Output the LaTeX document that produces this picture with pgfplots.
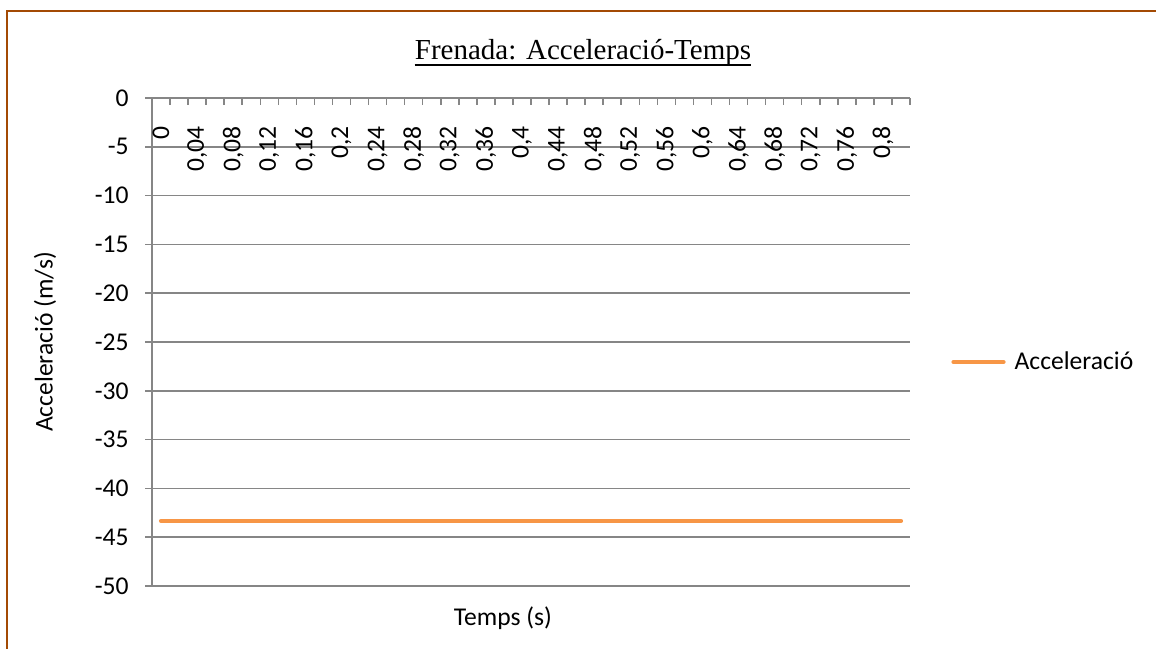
\documentclass[border=0pt]{standalone}
\usepackage{pgfplots}
\pgfplotsset{compat=1.18}
\usepackage{fontspec}
\setmainfont{Carlito}
\newfontfamily\titlefont{Liberation Serif}
\definecolor{framebrown}{RGB}{163,74,4}
\definecolor{axisgray}{RGB}{134,134,134}
\definecolor{seriesorange}{RGB}{247,150,70}
\newcommand{\lblfont}{\fontsize{12.8}{15}\selectfont}

\begin{document}
\begin{tikzpicture}[x=1pt,y=1pt]
\useasboundingbox (0,0) rectangle (578,324);
% chart frame (left and top edges)
\draw[framebrown, line width=1.3pt] (3.5,-2) -- (3.5,318.5) -- (580,318.5);
\begin{axis}[
  at={(76pt,31pt)}, anchor=south west,
  width=379pt, height=244pt, scale only axis,
  xmin=-0.5, xmax=41.5, ymin=-50, ymax=0,
  axis x line*=top, axis y line*=left,
  axis line style={axisgray, line width=0.75pt},
  tick align=outside,
  major tick length=3.5pt, minor tick length=3.5pt,
  tick style={axisgray, line width=0.75pt},
  ytick={-50,-45,...,0},
  yticklabels={-50,-45,-40,-35,-30,-25,-20,-15,-10,-5,0},
  ymajorgrids,
  major grid style={axisgray, line width=0.8pt},
  xtick={0,2,...,40},
  xticklabels={0,{0,04},{0,08},{0,12},{0,16},{0,2},{0,24},{0,28},{0,32},{0,36},{0,4},{0,44},{0,48},{0,52},{0,56},{0,6},{0,64},{0,68},{0,72},{0,76},{0,8}},
  every major x tick/.append style={draw=none},
  minor xtick={-0.5,0.5,...,41.5},
  every minor x tick/.append style={yshift=-3.5pt, axisgray, line width=0.75pt},
  xticklabel style={font=\lblfont, inner sep=0pt, yshift=-17.5pt, rotate=90, anchor=east},
  yticklabel style={font=\lblfont, inner sep=0pt, xshift=-8pt},
  legend style={at={(1.0541,0.459)}, anchor=west, draw=none, fill=none,
    inner sep=0pt, nodes={inner sep=0pt, font=\lblfont}},
  legend image code/.code={\draw[#1] (1pt,0pt) -- (26pt,0pt); \path (30.5pt,0pt);},
  clip=false,
]
\addplot[seriesorange, line width=2.1pt, line cap=round, mark=none] coordinates {
(0,-43.33) (1,-43.33) (2,-43.33) (3,-43.33) (4,-43.33) (5,-43.33) (6,-43.33)
(7,-43.33) (8,-43.33) (9,-43.33) (10,-43.33) (11,-43.33) (12,-43.33) (13,-43.33)
(14,-43.33) (15,-43.33) (16,-43.33) (17,-43.33) (18,-43.33) (19,-43.33) (20,-43.33)
(21,-43.33) (22,-43.33) (23,-43.33) (24,-43.33) (25,-43.33) (26,-43.33) (27,-43.33)
(28,-43.33) (29,-43.33) (30,-43.33) (31,-43.33) (32,-43.33) (33,-43.33) (34,-43.33)
(35,-43.33) (36,-43.33) (37,-43.33) (38,-43.33) (39,-43.33) (40,-43.33) (41,-43.33)
};
\addlegendentry{Acceleració}
\end{axis}
% title
\node[anchor=base, inner sep=0pt, font=\titlefont\fontsize{14.5}{17}\selectfont] (ttl) at (291.5,294) {Frenada: Acceleració-Temps};
\draw[line width=0.55pt] ([yshift=-2.5pt]ttl.base west) -- ([yshift=-2.5pt]ttl.base east);
% axis titles
\node[anchor=base, inner sep=0pt, font=\lblfont] at (251.5,11.15) {Temps (s)};
\node[rotate=90, inner sep=0pt, font=\lblfont] at (22.5,153) {Acceleració (m/s)};
\end{tikzpicture}
\end{document}
